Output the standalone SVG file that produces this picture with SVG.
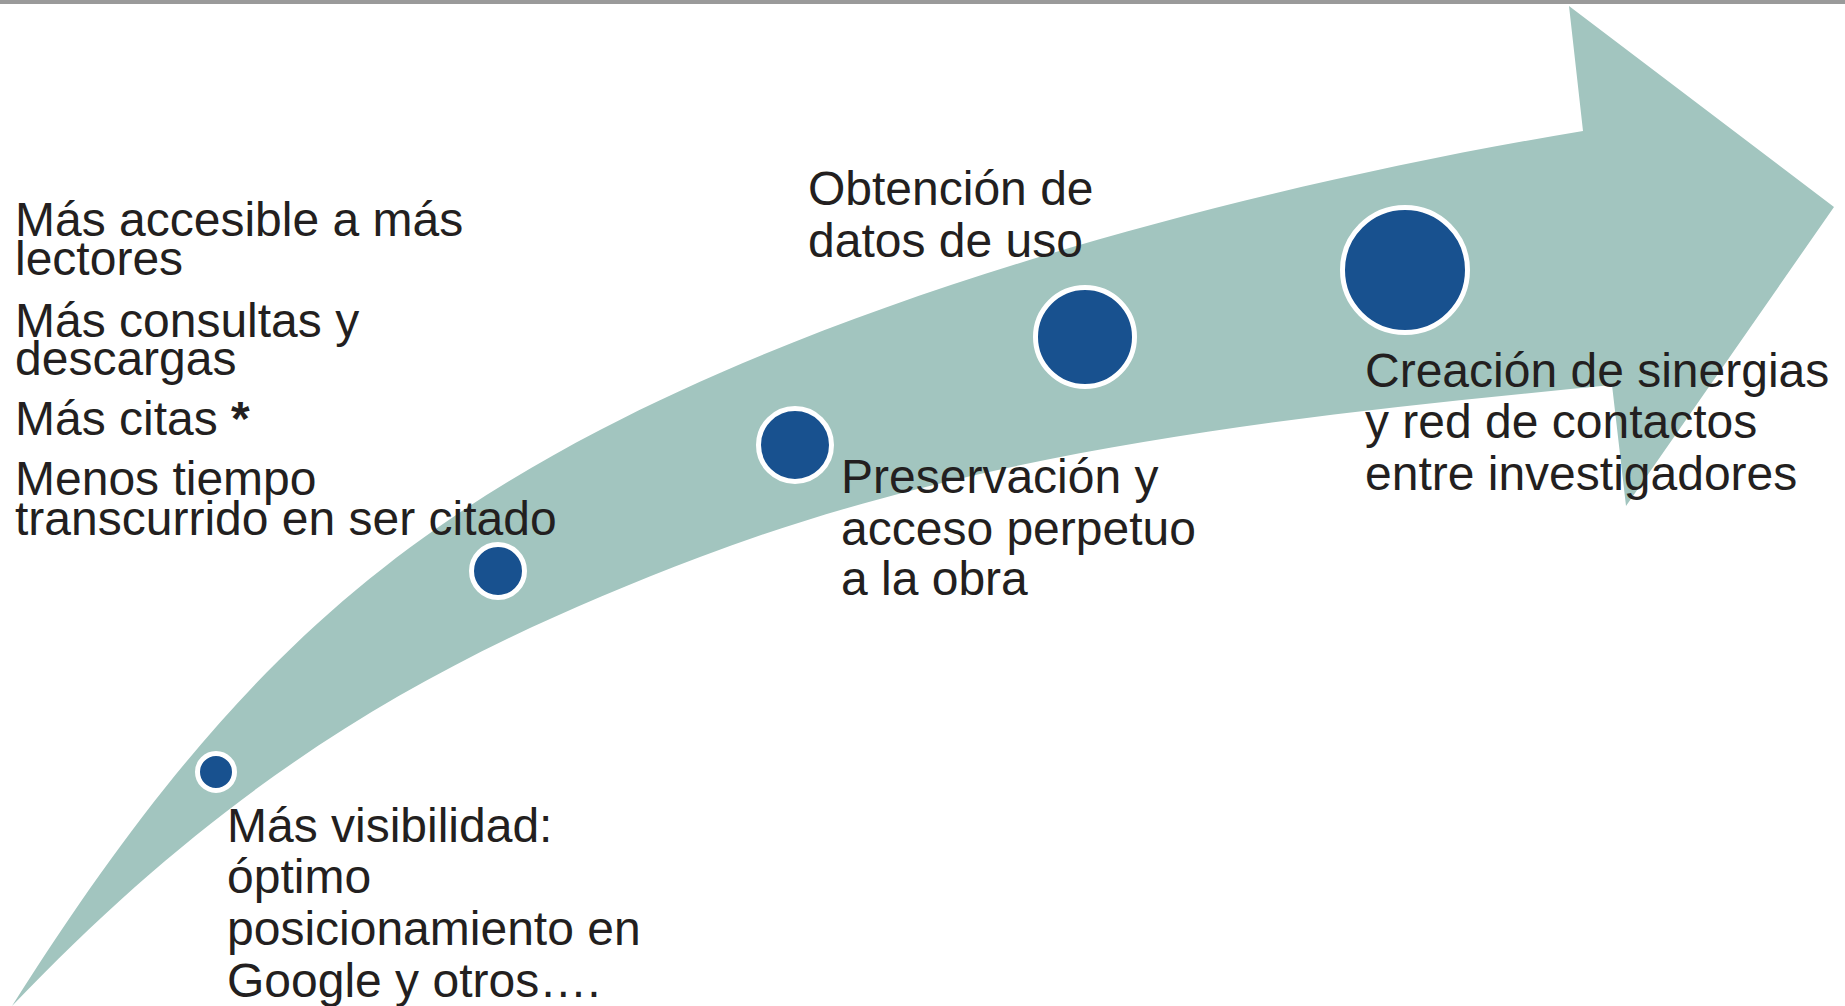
<svg xmlns="http://www.w3.org/2000/svg" width="1845" height="1006" viewBox="0 0 1845 1006">
<style>
.lbl{font-family:"Liberation Sans",Arial,sans-serif;font-size:48px;fill:#231F20;}
.dot{fill:#18518F;stroke:#FFFFFF;stroke-width:5;}
</style>
<rect x="0" y="0" width="1845" height="1006" fill="#FFFFFF"/>
<rect x="0" y="0" width="1845" height="4" fill="#9A9A9A"/>
<g id="connectors">
<path id="arrow" fill="#A2C5BF" d="M12,1006 C199,710 356,557 600,430 C866,291 1246,187 1583,131 L1569,6 L1834,207 L1626,506 L1612,385 C1304,415 990,447 700,557 C444,654 240,767 12,1006 Z"/>
</g>
<g id="node1">
<circle class="dot" cx="216" cy="772" r="18.5"/>
<text class="lbl" x="227" y="842">Más visibilidad:</text>
<text class="lbl" x="227" y="893">óptimo</text>
<text class="lbl" x="227" y="945">posicionamiento en</text>
<text class="lbl" x="227" y="997">Google y otros….</text>
</g>
<g id="node2">
<circle class="dot" cx="498" cy="571" r="26.5"/>
<text class="lbl" x="15" y="236">Más accesible a más</text>
<text class="lbl" x="15" y="275">lectores</text>
<text class="lbl" x="15" y="337">Más consultas y</text>
<text class="lbl" x="15" y="375">descargas</text>
<text class="lbl" x="15" y="435">Más citas <tspan font-weight="bold">*</tspan></text>
<text class="lbl" x="15" y="495">Menos tiempo</text>
<text class="lbl" x="15" y="535">transcurrido en ser citado</text>
</g>
<g id="node3">
<circle class="dot" cx="795" cy="445" r="36.5"/>
<text class="lbl" x="841" y="493">Preservación y</text>
<text class="lbl" x="841" y="545">acceso perpetuo</text>
<text class="lbl" x="841" y="595">a la obra</text>
</g>
<g id="node4">
<circle class="dot" cx="1085" cy="337" r="49.5"/>
<text class="lbl" x="808" y="205">Obtención de</text>
<text class="lbl" x="808" y="257">datos de uso</text>
</g>
<g id="node5">
<circle class="dot" cx="1405" cy="270" r="62.5"/>
<text class="lbl" x="1365" y="387">Creación de sinergias</text>
<text class="lbl" x="1365" y="438">y red de contactos</text>
<text class="lbl" x="1365" y="490">entre investigadores</text>
</g>
</svg>
